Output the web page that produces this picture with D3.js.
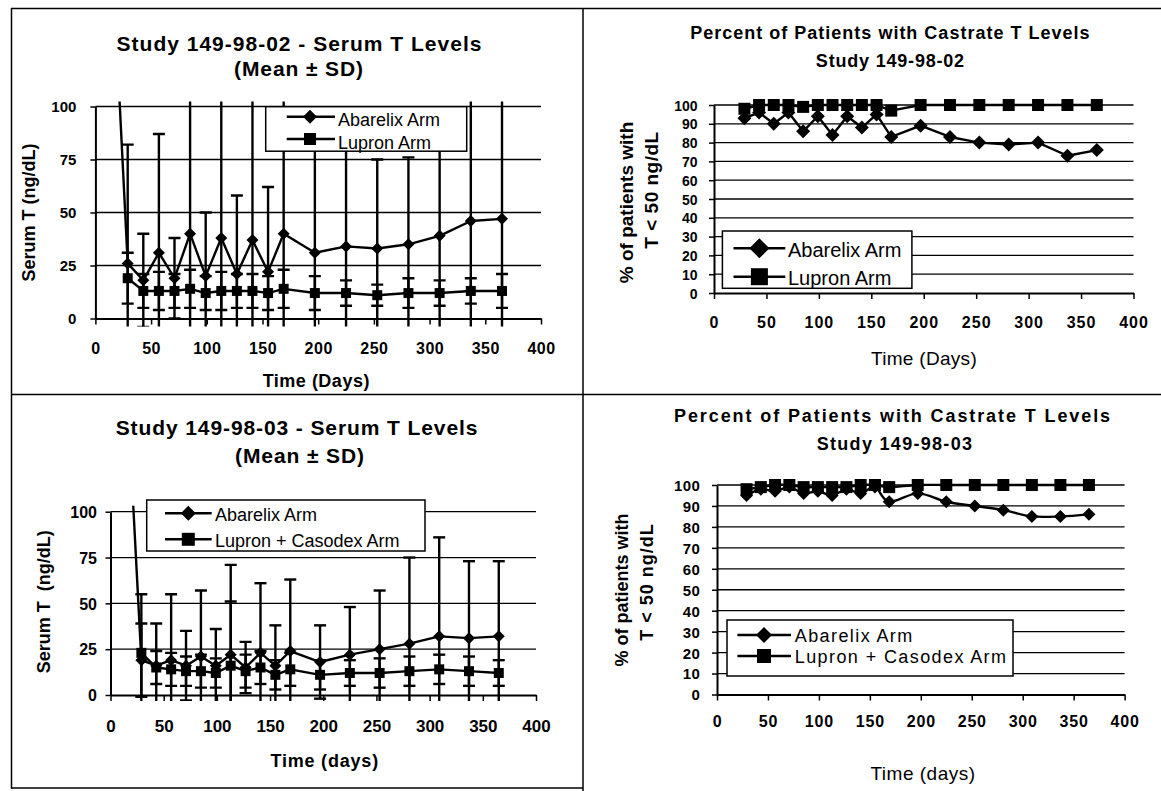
<!DOCTYPE html>
<html>
<head>
<meta charset="utf-8">
<script src="https://cdn.jsdelivr.net/npm/d3@7"></script>
<style>
  html, body { margin: 0; padding: 0; background: #fff; }
  svg { display: block; font-family: "Liberation Sans", Arial, Helvetica, sans-serif; }
</style>
</head>
<body>
<svg id="fig" width="1161" height="791"></svg>
<script>
// ---- Data -------------------------------------------------------------
// Scheduled visit days
const days = [29, 43, 57, 71, 85, 99, 113, 127, 141, 155, 169, 197, 225, 253, 281, 309, 337, 365];

// Pre-treatment (day 0) mean serum T, Abarelix arm
const baselineDay = 0;
const baseline02Abarelix = 330;
const baseline03Abarelix = 340;

// Study 149-98-02: serum T, ng/dL (mean, SD)
const t02AbarelixMean = [26, 18, 31, 19, 40, 20, 38, 21, 37, 22, 40, 31, 34, 33, 35, 39, 46, 47];
const t02AbarelixSD   = [56, 22, 56, 19, 75, 30, 70, 37, 70, 40, 65, 58, 55, 42, 41, 50, 70, 70];
const t02LupronMean   = [19, 13, 13, 13, 14, 12, 13, 13, 13, 12, 14, 12, 12, 11, 12, 12, 13, 13];
const t02LupronSD     = [12,  8,  9,  8,  9,  8,  9,  8,  8,  8,  9,  8,  6,  5,  7,  6,  6,  8];

// Study 149-98-03: serum T, ng/dL (mean, SD)
const t03AbarelixMean = [19, 16, 19, 16, 21, 16, 22, 15, 23, 16, 24, 18, 22, 25, 28, 32, 31, 32];
const t03AbarelixSD   = [20, 23, 36, 19, 36, 20, 49, 14, 38, 22, 39, 20, 26, 32, 47, 54, 42, 41];
const t03LupronMean   = [23, 15, 14, 13, 13, 12, 16, 13, 15, 11, 14, 11, 12, 12, 13, 14, 13, 12];
const t03LupronSD     = [32,  9,  9,  8,  9,  8, 35,  9,  9,  8,  9,  8,  7,  8,  8,  8,  8,  7];

// Percent of patients with T < 50 ng/dL
const pct02Abarelix = [93, 96, 90, 96, 86, 94, 84, 94, 88, 95, 83, 89, 83, 80, 79, 80, 73, 76];
const pct02Lupron   = [98, 100, 100, 100, 99, 100, 100, 100, 100, 100, 97, 100, 100, 100, 100, 100, 100, 100];
const pct03Abarelix = [95, 98, 97, 99, 96, 97, 95, 98, 96, 99, 92, 96, 92, 90, 88, 85, 85, 86];
const pct03Lupron   = [98, 99, 100, 100, 99, 99, 99, 99, 100, 100, 99, 100, 100, 100, 100, 100, 100, 100];

// Axis ticks
const xTicks = [0, 50, 100, 150, 200, 250, 300, 350, 400];
const yTicksSerum = [0, 25, 50, 75, 100];
const yTicksPct = [0, 10, 20, 30, 40, 50, 60, 70, 80, 90, 100];

// ---- Drawing ----------------------------------------------------------
const svg = d3.select("#fig");

function addText(parent, o) {
  const t = parent.append("text")
    .attr("x", o.x).attr("y", o.y)
    .attr("text-anchor", o.anchor || "middle")
    .attr("font-size", o.size)
    .attr("font-weight", o.weight || "normal")
    .attr("fill", "#000")
    .text(o.text);
  if (o.spacing) t.attr("letter-spacing", o.spacing);
  if (o.pre) t.style("white-space", "pre");
  if (o.rotate) t.attr("transform", `rotate(${o.rotate},${o.x},${o.y})`);
  return t;
}

function marker(parent, shape, cx, cy, size) {
  if (shape === "diamond") {
    const side = size / Math.SQRT2;
    parent.append("path")
      .attr("d", d3.symbol(d3.symbolSquare, side * side)())
      .attr("transform", `translate(${cx},${cy}) rotate(45)`)
      .attr("fill", "#000");
  } else {
    parent.append("path")
      .attr("d", d3.symbol(d3.symbolSquare, size * size)())
      .attr("transform", `translate(${cx},${cy})`)
      .attr("fill", "#000");
  }
}

let clipId = 0;

function drawPanel(cfg) {
  const g = svg.append("g");
  const x = d3.scaleLinear().domain([0, 400]).range([cfg.x0, cfg.x1]);
  const y = d3.scaleLinear().domain([0, 100]).range([cfg.y0, cfg.y1]);

  // horizontal gridlines
  g.append("g").selectAll("line")
    .data(cfg.yTicks.filter(v => v > 0))
    .join("line")
    .attr("x1", cfg.x0).attr("x2", cfg.x1)
    .attr("y1", d => y(d)).attr("y2", d => y(d))
    .attr("stroke", "#000").attr("stroke-width", 1.3);

  // y axis
  const ya = g.append("g")
    .attr("transform", `translate(${cfg.x0},0)`)
    .call(d3.axisLeft(y).tickValues(cfg.yTicks).tickSize(5).tickSizeOuter(0)
      .tickPadding(cfg.yPad).tickFormat(d3.format("d")));
  ya.attr("font-family", null).attr("font-size", null);
  ya.select(".domain").attr("stroke", "#000").attr("stroke-width", 2);
  ya.selectAll(".tick line").attr("stroke", "#000").attr("stroke-width", 1.5);
  ya.selectAll(".tick text")
    .attr("font-size", cfg.yFont).attr("font-weight", "bold")
    .attr("letter-spacing", cfg.ySpacing || 0)
    .attr("fill", "#000").attr("dy", "0.36em");

  // x axis
  const xa = g.append("g")
    .attr("transform", `translate(0,${cfg.y0})`)
    .call(d3.axisBottom(x).tickValues(xTicks).tickSize(6).tickSizeOuter(0)
      .tickFormat(d3.format("d")));
  xa.attr("font-family", null).attr("font-size", null);
  xa.select(".domain").attr("stroke", "#000").attr("stroke-width", 2);
  xa.selectAll(".tick line").attr("stroke", "#000").attr("stroke-width", 1.5);
  xa.selectAll(".tick text")
    .attr("y", cfg.xLabelBase - cfg.y0).attr("dy", null)
    .attr("font-size", cfg.xFont).attr("font-weight", cfg.xWeight || "bold")
    .attr("letter-spacing", cfg.xSpacing || 0)
    .attr("fill", "#000");

  // clip region for lines and error bars
  const id = "clip" + (clipId++);
  g.append("clipPath").attr("id", id).append("rect")
    .attr("x", cfg.x0 - 2).attr("y", cfg.y1 - cfg.clipTop)
    .attr("width", cfg.x1 - cfg.x0 + 4)
    .attr("height", cfg.y0 - cfg.y1 + cfg.clipTop + cfg.clipBottom);

  const line = d3.line()
    .x(d => x(d.day)).y(d => y(d.value))
    .curve(cfg.curve || d3.curveLinear);

  cfg.series.forEach(s => {
    const pts = days.map((d, i) => ({ day: d, value: s.mean[i], sd: s.sd ? s.sd[i] : null }));
    const linePts = s.start ? [{ day: s.start[0], value: s.start[1] }].concat(pts) : pts;
    const sg = g.append("g");
    const clipped = sg.append("g").attr("clip-path", `url(#${id})`);
    clipped.append("path")
      .datum(linePts)
      .attr("d", line)
      .attr("fill", "none").attr("stroke", "#000")
      .attr("stroke-width", cfg.lineWidth).attr("stroke-linejoin", "round");

    if (s.sd) {
      const eb = clipped.append("g").attr("stroke", "#000").attr("stroke-width", 2.4);
      pts.forEach(p => {
        const cx = x(p.day), top = y(p.value + p.sd), bot = y(p.value - p.sd);
        eb.append("line").attr("x1", cx).attr("x2", cx).attr("y1", top).attr("y2", bot);
        eb.append("line").attr("x1", cx - 6).attr("x2", cx + 6).attr("y1", top).attr("y2", top);
        eb.append("line").attr("x1", cx - 6).attr("x2", cx + 6).attr("y1", bot).attr("y2", bot);
      });
    }
    pts.forEach(p => marker(sg, s.shape, x(p.day), y(p.value), s.shape === "diamond" ? cfg.diamond : cfg.square));
  });

  // legend
  const L = cfg.legend;
  const lg = g.append("g");
  lg.append("rect")
    .attr("x", L.x).attr("y", L.y).attr("width", L.w).attr("height", L.h)
    .attr("fill", "#fff").attr("stroke", "#000").attr("stroke-width", 1.5);
  cfg.series.forEach((s, i) => {
    const yy = L.rows[i];
    lg.append("line")
      .attr("x1", L.lineX[0]).attr("x2", L.lineX[1])
      .attr("y1", yy).attr("y2", yy)
      .attr("stroke", "#000").attr("stroke-width", cfg.lineWidth);
    marker(lg, s.shape, L.markX, yy, s.shape === "diamond" ? L.diamond : L.square);
    addText(lg, { text: s.name, x: L.textX, y: yy + L.textDy, size: L.font,
      anchor: "start", spacing: L.spacing });
  });

  // titles
  cfg.titles.forEach(t => addText(g, t));
}

drawPanel({
  x0: 95.4, x1: 541, y0: 318.5, y1: 106.5,
  yTicks: yTicksSerum, yPad: 14, yFont: 15,
  xFont: 16, xSpacing: 0.5, xLabelBase: 354,
  clipTop: 5, clipBottom: 8, lineWidth: 2.4, diamond: 12, square: 10,
  series: [
    { name: "Abarelix Arm", shape: "diamond", mean: t02AbarelixMean, sd: t02AbarelixSD,
      start: [baselineDay, baseline02Abarelix] },
    { name: "Lupron Arm", shape: "square", mean: t02LupronMean, sd: t02LupronSD }
  ],
  legend: { x: 265.7, y: 106.7, w: 201, h: 44.5, rows: [116.7, 139], lineX: [286.7, 335],
    markX: 310, textX: 338, textDy: 9.5, font: 18, diamond: 14, square: 12 },
  titles: [
    { text: "Study 149-98-02 - Serum T Levels", x: 299.5, y: 50.7, size: 21, weight: "bold", spacing: 1 },
    { text: "(Mean \u00b1 SD)", x: 299, y: 76, size: 21, weight: "bold", spacing: 0.9 },
    { text: "Serum T (ng/dL)", x: 35, y: 212.5, size: 18, weight: "bold", rotate: -90 },
    { text: "Time (Days)", x: 316.3, y: 386.5, size: 18, weight: "bold", spacing: 0.5 }
  ]
});

drawPanel({
  x0: 714, x1: 1133.5, y0: 293, y1: 105,
  yTicks: yTicksPct, yPad: 11.4, yFont: 14,
  xFont: 16, xSpacing: 1, xLabelBase: 328.3,
  clipTop: 5, clipBottom: 8, lineWidth: 2.4, diamond: 14, square: 12,
  series: [
    { name: "Abarelix Arm", shape: "diamond", mean: pct02Abarelix },
    { name: "Lupron Arm", shape: "square", mean: pct02Lupron }
  ],
  legend: { x: 722.4, y: 231, w: 189.5, h: 57.3, rows: [248.3, 276.7], lineX: [733.5, 785.3],
    markX: 759.4, textX: 788, textDy: 8.4, font: 20, diamond: 20, square: 17 },
  titles: [
    { text: "Percent of Patients with Castrate T Levels", x: 890.4, y: 39.3, size: 18, weight: "bold", spacing: 1 },
    { text: "Study 149-98-02", x: 890.4, y: 66.7, size: 18, weight: "bold", spacing: 0.8 },
    { text: "% of patients with", x: 633, y: 202.5, size: 19, weight: "bold", rotate: -90 },
    { text: "T < 50 ng/dL", x: 657.5, y: 190, size: 19, weight: "bold", spacing: 0.5, rotate: -90 },
    { text: "Time (Days)", x: 924, y: 365, size: 19, spacing: 0.3 }
  ]
});

drawPanel({
  x0: 110.5, x1: 536, y0: 695, y1: 511.7,
  yTicks: yTicksSerum, yPad: 8.5, yFont: 16,
  xFont: 17, xLabelBase: 731.5,
  clipTop: 6, clipBottom: 6, lineWidth: 2.4, diamond: 12, square: 10,
  series: [
    { name: "Abarelix Arm", shape: "diamond", mean: t03AbarelixMean, sd: t03AbarelixSD,
      start: [baselineDay, baseline03Abarelix] },
    { name: "Lupron + Casodex Arm", shape: "square", mean: t03LupronMean, sd: t03LupronSD }
  ],
  legend: { x: 146.7, y: 500, w: 278.3, h: 51, rows: [513.3, 539.3], lineX: [165, 211.7],
    markX: 188.3, textX: 215, textDy: 8, font: 18, diamond: 15, square: 13 },
  titles: [
    { text: "Study 149-98-03 - Serum T Levels", x: 297, y: 435, size: 21, weight: "bold", spacing: 0.9 },
    { text: "(Mean \u00b1 SD)", x: 300, y: 463, size: 21, weight: "bold", spacing: 0.9 },
    { text: "Serum T  (ng/dL)", x: 50, y: 601.7, size: 18, weight: "bold", rotate: -90, pre: true },
    { text: "Time (days)", x: 324.7, y: 766.5, size: 18, weight: "bold", spacing: 0.8 }
  ]
});

drawPanel({
  x0: 717, x1: 1124.6, y0: 694.5, y1: 485,
  yTicks: yTicksPct, yPad: 11.6, yFont: 15, ySpacing: 0.5,
  xFont: 16, xSpacing: 0.8, xLabelBase: 726.5,
  clipTop: 5, clipBottom: 8, lineWidth: 2.4, diamond: 13, square: 12,
  curve: d3.curveCardinal.tension(0),
  series: [
    { name: "Abarelix Arm", shape: "diamond", mean: pct03Abarelix },
    { name: "Lupron + Casodex Arm", shape: "square", mean: pct03Lupron }
  ],
  legend: { x: 727, y: 620, w: 286, h: 56, rows: [635, 656], lineX: [737.4, 791],
    markX: 764, textX: 794.8, textDy: 6.5, font: 18, spacing: 1.4, diamond: 16, square: 14 },
  titles: [
    { text: "Percent of Patients with Castrate T Levels", x: 893, y: 421.7, size: 18, weight: "bold", spacing: 1.9 },
    { text: "Study 149-98-03", x: 895, y: 450, size: 18, weight: "bold", spacing: 1.3 },
    { text: "% of patients with", x: 628, y: 590, size: 18, weight: "bold", rotate: -90 },
    { text: "T < 50 ng/dL", x: 652.5, y: 582, size: 18, weight: "bold", spacing: 1, rotate: -90 },
    { text: "Time (days)", x: 923, y: 780, size: 19, spacing: 0.5 }
  ]
});

// page frame and panel dividers
const frame = svg.append("g").attr("stroke", "#000").attr("stroke-width", 1.5);
[[11, 8.5, 1161, 8.5], [11.5, 8, 11.5, 788.5], [11, 788, 583, 788],
 [583, 8, 583, 791], [11, 394.5, 1161, 394.5]].forEach(([a, b, c, d]) =>
  frame.append("line").attr("x1", a).attr("y1", b).attr("x2", c).attr("y2", d));
</script>
</body>
</html>
